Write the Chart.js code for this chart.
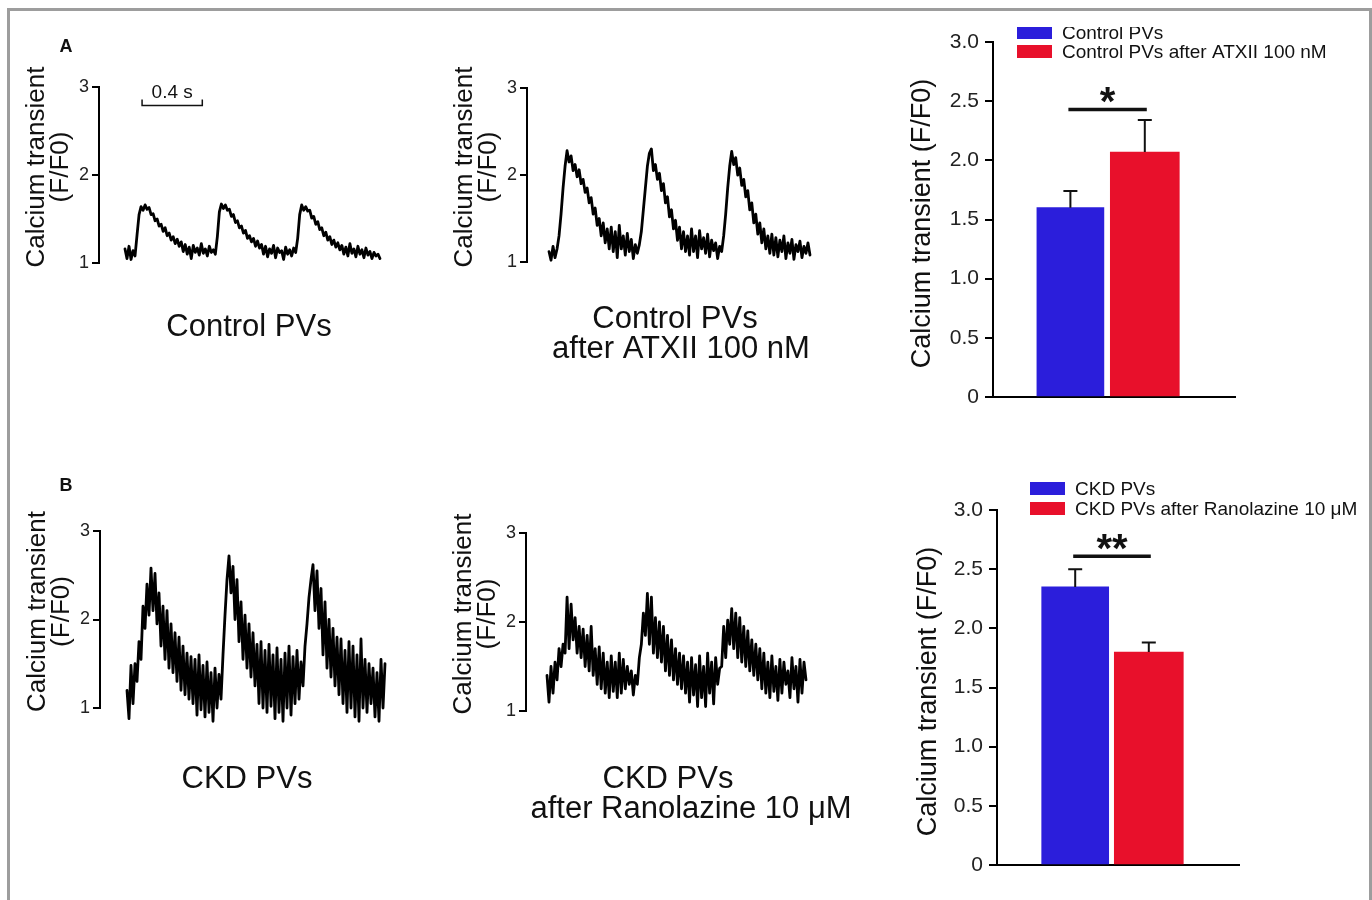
<!DOCTYPE html>
<html>
<head>
<meta charset="utf-8">
<title>Calcium transient in PVs</title>
<script src="https://cdn.jsdelivr.net/npm/chart.js@4.4.1/dist/chart.umd.min.js"></script>
<style>
  html, body { margin: 0; background: #fff; }
  body { width: 1372px; height: 900px; position: relative; overflow: hidden; }
  #frame { position: absolute; left: 7px; top: 8px; width: 1359px; height: 900px; border: 3px solid #9d9d9d; border-bottom: none; }
  canvas { position: absolute; left: 0; top: 0; pointer-events: none; }
</style>
</head>
<body>
<div id="frame"></div>
<canvas id="traceA1" width="1372" height="900"></canvas>
<canvas id="traceA2" width="1372" height="900"></canvas>
<canvas id="barsA" width="1372" height="900"></canvas>
<canvas id="traceB1" width="1372" height="900"></canvas>
<canvas id="traceB2" width="1372" height="900"></canvas>
<canvas id="barsB" width="1372" height="900"></canvas>
<script>
const FONT = '"Liberation Sans", Arial, Helvetica, sans-serif';
Chart.defaults.font.family = FONT;
Chart.defaults.color = '#1a1a1a';
Chart.defaults.animation = false;

// raw traces, F/F0, evenly sampled
const SAMPLE_RATE = 75; // samples per second
const traceTicks = [1, 2, 3];

const traceControl = [
  1.16, 1.05, 1.19, 1.04, 1.14, 1.08,
  1.32, 1.55, 1.64,
  1.60, 1.66, 1.61,
  1.63, 1.55, 1.56, 1.48, 1.50, 1.42, 1.44, 1.36, 1.40, 1.31, 1.34, 1.26, 1.30, 1.22, 1.27, 1.19,
  1.24, 1.13, 1.21, 1.10, 1.18, 1.05, 1.20, 1.12, 1.17, 1.09, 1.22, 1.11, 1.16, 1.08, 1.19, 1.12, 1.15, 1.10,
  1.30, 1.58,
  1.67, 1.62, 1.66, 1.60,
  1.61, 1.53, 1.55, 1.46, 1.48, 1.40, 1.42, 1.34, 1.37, 1.28, 1.31, 1.24, 1.28, 1.19, 1.25, 1.17,
  1.21, 1.10, 1.19, 1.07, 1.16, 1.11, 1.20, 1.06, 1.17, 1.12, 1.14, 1.04, 1.18, 1.10, 1.15, 1.08, 1.17, 1.12,
  1.28, 1.55,
  1.66, 1.60, 1.64, 1.59,
  1.60, 1.51, 1.53, 1.44, 1.47, 1.38, 1.40, 1.31, 1.35, 1.26, 1.30, 1.21, 1.26, 1.18, 1.23, 1.15,
  1.20, 1.10, 1.18, 1.08, 1.22, 1.11, 1.16, 1.07, 1.19, 1.10, 1.15, 1.06, 1.17, 1.09, 1.13, 1.05, 1.12, 1.08, 1.10, 1.05
];

const traceControlAtx = [
  1.12, 1.02, 1.18, 1.05, 1.15,
  1.30, 1.55, 1.85, 2.10, 2.28,
  2.15, 2.22, 2.05, 2.12, 1.98, 2.06, 1.90,
  1.95, 1.80, 1.85, 1.68, 1.74, 1.55, 1.62, 1.42, 1.50, 1.30, 1.45, 1.22, 1.38, 1.15,
  1.40, 1.12, 1.35, 1.05, 1.42, 1.15, 1.30, 1.08, 1.33, 1.12, 1.26, 1.04, 1.20, 1.10,
  1.20, 1.35, 1.60, 1.85, 2.10, 2.25,
  2.30,
  2.05, 2.12, 1.95, 2.02, 1.82, 1.90, 1.68, 1.75, 1.52, 1.60, 1.38, 1.48, 1.25, 1.40, 1.15, 1.35, 1.12, 1.30, 1.08,
  1.38, 1.12, 1.30, 1.05, 1.36, 1.15, 1.28, 1.10, 1.32, 1.06, 1.25, 1.13, 1.22, 1.04, 1.18, 1.12,
  1.30, 1.55, 1.85, 2.10, 2.27,
  2.12, 2.20, 2.00, 2.08, 1.88, 1.95, 1.75, 1.82, 1.60, 1.68, 1.45, 1.55, 1.32, 1.45, 1.22, 1.38, 1.15, 1.30, 1.10, 1.32, 1.08,
  1.28, 1.06, 1.25, 1.12, 1.30, 1.04, 1.22, 1.10, 1.26, 1.03, 1.20, 1.12, 1.24, 1.05, 1.18, 1.10, 1.22, 1.08
];

const traceCkd = [
  1.20, 0.88, 1.48, 1.05, 1.50,
  1.30, 1.75, 1.55, 2.15, 1.90, 2.40,
  2.05, 2.58, 2.10, 2.52, 1.95,
  2.30, 1.70, 2.15, 1.55, 2.10, 1.45, 1.95, 1.40, 1.85, 1.30, 1.80, 1.20, 1.70, 1.15, 1.62, 1.10, 1.58, 1.05,
  1.55, 0.92, 1.60, 0.98, 1.48, 0.90, 1.52, 0.95, 1.40, 0.85, 1.45, 1.00, 1.38, 1.10,
  1.60, 2.05, 2.45, 2.72,
  2.30, 2.60, 2.00, 2.45, 1.75, 2.20, 1.55, 2.05, 1.45, 1.95, 1.35, 1.85,
  1.25, 1.72, 1.05, 1.75, 1.00, 1.65, 0.95, 1.72, 1.02, 1.60, 0.88, 1.68, 0.95, 1.55, 0.85, 1.62, 1.00, 1.70, 0.92, 1.58, 1.05, 1.65, 1.10, 1.52, 1.25,
  1.70, 1.95, 2.25, 2.45, 2.62,
  2.10, 2.55, 1.90, 2.35, 1.60, 2.20, 1.45, 2.00, 1.35, 1.90, 1.25, 1.80,
  1.15, 1.78, 1.05, 1.65, 0.95, 1.75, 1.00, 1.70, 0.90, 1.60, 0.85, 1.78, 1.00, 1.55, 0.95, 1.50, 1.05, 1.45, 0.90, 1.40, 0.85, 1.55, 1.00, 1.50
];

const traceCkdRano = [
  1.40, 1.10, 1.50, 1.20, 1.55,
  1.35, 1.70, 1.50, 1.75, 1.65,
  2.28, 1.70, 2.20, 1.80, 2.05,
  1.65, 1.95, 1.60, 1.92, 1.50, 1.85, 1.45, 1.95, 1.40, 1.70, 1.30, 1.72,
  1.25, 1.65, 1.20, 1.55, 1.15, 1.62, 1.22, 1.55, 1.15, 1.65, 1.20, 1.58, 1.25, 1.50, 1.30, 1.45, 1.18, 1.40, 1.30,
  1.60, 1.75, 2.10, 1.85, 2.32,
  1.75, 2.28, 1.65, 2.05, 1.60, 2.00, 1.55, 1.95, 1.45, 1.85, 1.40, 1.80, 1.35, 1.70, 1.30, 1.65,
  1.25, 1.62, 1.20, 1.55, 1.10, 1.60, 1.18, 1.52, 1.05, 1.62, 1.15, 1.50, 1.05, 1.65, 1.20, 1.55, 1.08, 1.60, 1.30, 1.48, 1.50,
  1.95, 1.60, 2.02, 1.75, 2.15,
  1.70, 2.10, 1.60, 2.05, 1.55, 1.95, 1.50, 1.90, 1.45, 1.80, 1.40, 1.75, 1.35, 1.70,
  1.25, 1.65, 1.20, 1.55, 1.15, 1.62, 1.22, 1.50, 1.12, 1.58, 1.20, 1.55, 1.30, 1.45, 1.15, 1.60, 1.25, 1.50, 1.10, 1.58, 1.20, 1.55, 1.35
];

// summary bars (mean + SEM)
const barTicks = [0, 0.5, 1.0, 1.5, 2.0, 2.5, 3.0];
const groupsA = ['Control PVs', 'Control PVs after ATXII 100 nM'];
const meanA = [1.60, 2.07];
const semA = [0.14, 0.27];
const groupsB = ['CKD PVs', 'CKD PVs after Ranolazine 10 μM'];
const meanB = [2.35, 1.80];
const semB = [0.15, 0.08];
const sigA = { y: 2.43, label: '*' };
const sigB = { y: 2.61, label: '**' };

const BLUE = '#2b1edb';
const RED = '#e8102b';
const INK = '#111';

// free text (titles, panel letters)
const textPlugin = {
  id: 'texts',
  afterDraw(chart, args, opts) {
    const ctx = chart.ctx;
    (opts.items || []).forEach(t => {
      ctx.save();
      ctx.font = t.font;
      ctx.fillStyle = t.color || INK;
      ctx.textAlign = t.align || 'center';
      ctx.textBaseline = t.baseline || 'alphabetic';
      ctx.translate(t.x, t.y);
      if (t.rotate) ctx.rotate(t.rotate);
      ctx.fillText(t.text, 0, 0);
      ctx.restore();
    });
  }
};

const scaleBarPlugin = {
  id: 'scaleBar',
  afterDraw(chart, args, opts) {
    if (!opts || !opts.seconds) return;
    const { x, y } = chart.scales;
    const ctx = chart.ctx;
    const x0 = x.getPixelForValue(opts.from);
    const x1 = x.getPixelForValue(opts.from + opts.seconds * SAMPLE_RATE);
    const yy = Math.round(y.getPixelForValue(opts.at)) + 0.5;
    ctx.save();
    ctx.strokeStyle = INK;
    ctx.lineWidth = 1.5;
    ctx.beginPath();
    ctx.moveTo(x0, yy - 6); ctx.lineTo(x0, yy); ctx.lineTo(x1, yy); ctx.lineTo(x1, yy - 6);
    ctx.stroke();
    ctx.font = '19px ' + FONT;
    ctx.fillStyle = INK;
    ctx.textAlign = 'center';
    ctx.fillText(opts.label, (x0 + x1) / 2, yy - 8);
    ctx.restore();
  }
};

const errorBarPlugin = {
  id: 'errorBars',
  afterDatasetsDraw(chart) {
    const ctx = chart.ctx, y = chart.scales.y;
    ctx.save();
    ctx.strokeStyle = INK;
    ctx.lineWidth = 2;
    chart.data.datasets.forEach((ds, i) => {
      const bar = chart.getDatasetMeta(i).data[0];
      const top = y.getPixelForValue(ds.data[0].y + ds.sem);
      ctx.beginPath();
      ctx.moveTo(bar.x, bar.y);
      ctx.lineTo(bar.x, top);
      ctx.moveTo(bar.x - 7, top);
      ctx.lineTo(bar.x + 7, top);
      ctx.stroke();
    });
    ctx.restore();
  }
};

const significancePlugin = {
  id: 'significance',
  afterDatasetsDraw(chart, args, opts) {
    const ctx = chart.ctx;
    const a = chart.getDatasetMeta(0).data[0], b = chart.getDatasetMeta(1).data[0];
    const yy = chart.scales.y.getPixelForValue(opts.y);
    ctx.save();
    ctx.strokeStyle = INK;
    ctx.lineWidth = 3.5;
    ctx.beginPath();
    ctx.moveTo(a.x - 2, yy);
    ctx.lineTo(b.x + 2, yy);
    ctx.stroke();
    ctx.font = 'bold 40px ' + FONT;
    ctx.fillStyle = INK;
    ctx.textAlign = 'center';
    ctx.fillText(opts.label, (a.x + b.x) / 2, yy + 6);
    ctx.restore();
  }
};

const stackLegendPlugin = {
  id: 'stackLegend',
  afterDraw(chart, args, opts) {
    const ctx = chart.ctx;
    ctx.save();
    if (opts.clipTop) {
      ctx.beginPath();
      ctx.rect(0, opts.clipTop, chart.width, chart.height);
      ctx.clip();
    }
    ctx.font = '19px ' + FONT;
    ctx.textBaseline = 'middle';
    ctx.textAlign = 'left';
    chart.data.datasets.forEach((ds, i) => {
      const cy = opts.y + i * opts.rowHeight;
      ctx.fillStyle = ds.backgroundColor;
      ctx.fillRect(opts.x, cy - 6.5, 35, 13);
      ctx.fillStyle = INK;
      ctx.fillText(ds.label, opts.x + 45, cy + 1);
    });
    ctx.restore();
  }
};

function yTitleLines(lines, x0, step, cy, size) {
  return lines.map((text, i) => ({
    text, x: x0 + i * step, y: cy, rotate: -Math.PI / 2,
    font: size + 'px ' + FONT, baseline: 'middle'
  }));
}

const TRACE_AXIS_W = 30;
const BAR_AXIS_W = 60;

function traceChart(id, values, box, texts, bar) {
  const n = values.length;
  const lead = (box.start - box.axis) / (box.end - box.start) * (n - 1);
  const mid = (box.top + box.bottom) / 2;
  const items = yTitleLines(['Calcium transient', '(F/F0)'], box.axis - 62, 24, mid - 8, 26).concat(texts);
  return new Chart(document.getElementById(id), {
    type: 'line',
    data: {
      datasets: [{
        data: values.map((v, i) => ({ x: i, y: v })),
        borderColor: '#000',
        borderWidth: box.lineWidth,
        borderJoinStyle: 'round',
        borderCapStyle: 'round',
        pointRadius: 0,
        tension: 0,
        clip: false
      }]
    },
    options: {
      responsive: false,
      events: [],
      layout: { padding: { left: box.axis - TRACE_AXIS_W, top: box.top, right: 1372 - box.end, bottom: 900 - box.bottom } },
      plugins: {
        legend: { display: false },
        tooltip: { enabled: false },
        texts: { items },
        scaleBar: bar || {}
      },
      scales: {
        x: { type: 'linear', display: false, min: -lead, max: n - 1 },
        y: {
          min: 1, max: 3,
          afterFit: s => { s.width = TRACE_AXIS_W; },
          afterBuildTicks: s => { s.ticks = traceTicks.map(v => ({ value: v })); },
          ticks: { font: { size: 18 }, color: '#222', padding: 3 },
          grid: { drawOnChartArea: false, tickLength: 7, color: '#000', lineWidth: 2 },
          border: { color: '#000', width: 2 }
        }
      }
    },
    plugins: [textPlugin, scaleBarPlugin]
  });
}

function barChart(id, groups, means, sems, sig, box, legend) {
  const ppu = box.c2 - box.c1;
  const colors = [BLUE, RED];
  const widths = [67, 69];
  return new Chart(document.getElementById(id), {
    type: 'bar',
    data: {
      datasets: groups.map((label, i) => ({
        label,
        data: [{ x: i, y: means[i] }],
        sem: sems[i],
        backgroundColor: colors[i],
        borderWidth: 0,
        barThickness: widths[i],
        grouped: false
      }))
    },
    options: {
      responsive: false,
      events: [],
      layout: { padding: { left: box.axis - BAR_AXIS_W, top: box.top, right: 1372 - box.right, bottom: 900 - box.bottom } },
      plugins: {
        legend: { display: false },
        tooltip: { enabled: false },
        significance: sig,
        stackLegend: legend,
        texts: { items: yTitleLines(['Calcium transient (F/F0)'], box.titleX, 0, (box.top + box.bottom) / 2 + 4, 27) }
      },
      scales: {
        x: {
          type: 'linear',
          min: -(box.c1 - box.axis) / ppu,
          max: (box.right - box.c1) / ppu,
          afterFit: s => { s.height = 0; },
          ticks: { display: false },
          grid: { display: false },
          border: { color: '#000', width: 2 }
        },
        y: {
          min: 0, max: 3,
          afterFit: s => { s.width = BAR_AXIS_W; },
          afterBuildTicks: s => { s.ticks = barTicks.map(v => ({ value: v })); },
          ticks: {
            font: { size: 21 }, color: '#222', padding: 6,
            callback: v => (v === 0 ? '0' : v.toFixed(1))
          },
          grid: { drawOnChartArea: false, tickLength: 8, color: '#000', lineWidth: 2 },
          border: { color: '#000', width: 2 }
        }
      }
    },
    plugins: [errorBarPlugin, significancePlugin, stackLegendPlugin, textPlugin]
  });
}

const titleFont = '31px ' + FONT;
const letterFont = 'bold 18px ' + FONT;

traceChart('traceA1', traceControl,
  { axis: 99, top: 87, bottom: 263, start: 125, end: 380, lineWidth: 2.8 },
  [
    { text: 'A', x: 66, y: 52, font: letterFont },
    { text: 'Control PVs', x: 249, y: 336, font: titleFont }
  ],
  { seconds: 0.4, from: 8.5, at: 2.8, label: '0.4 s' });

traceChart('traceA2', traceControlAtx,
  { axis: 527, top: 88, bottom: 262, start: 549, end: 810, lineWidth: 2.8 },
  [
    { text: 'Control PVs', x: 675, y: 328, font: titleFont },
    { text: 'after ATXII 100 nM', x: 681, y: 358, font: titleFont }
  ]);

traceChart('traceB1', traceCkd,
  { axis: 100, top: 531, bottom: 708, start: 127, end: 385, lineWidth: 2.8 },
  [
    { text: 'B', x: 66, y: 491, font: letterFont },
    { text: 'CKD PVs', x: 247, y: 788, font: titleFont }
  ]);

traceChart('traceB2', traceCkdRano,
  { axis: 526, top: 533, bottom: 711, start: 547, end: 806, lineWidth: 2.8 },
  [
    { text: 'CKD PVs', x: 668, y: 788, font: titleFont },
    { text: 'after Ranolazine 10 μM', x: 691, y: 818, font: titleFont }
  ]);

barChart('barsA', groupsA, meanA, semA, sigA,
  { axis: 993, top: 42, bottom: 397, right: 1235, c1: 1059.5, c2: 1152.5, titleX: 923 },
  { x: 1017, y: 32.5, rowHeight: 19, clipTop: 27 });

barChart('barsB', groupsB, meanB, semB, sigB,
  { axis: 997, top: 510, bottom: 865, right: 1239, c1: 1064.5, c2: 1156.5, titleX: 929 },
  { x: 1030, y: 488.5, rowHeight: 20 });
</script>
</body>
</html>
